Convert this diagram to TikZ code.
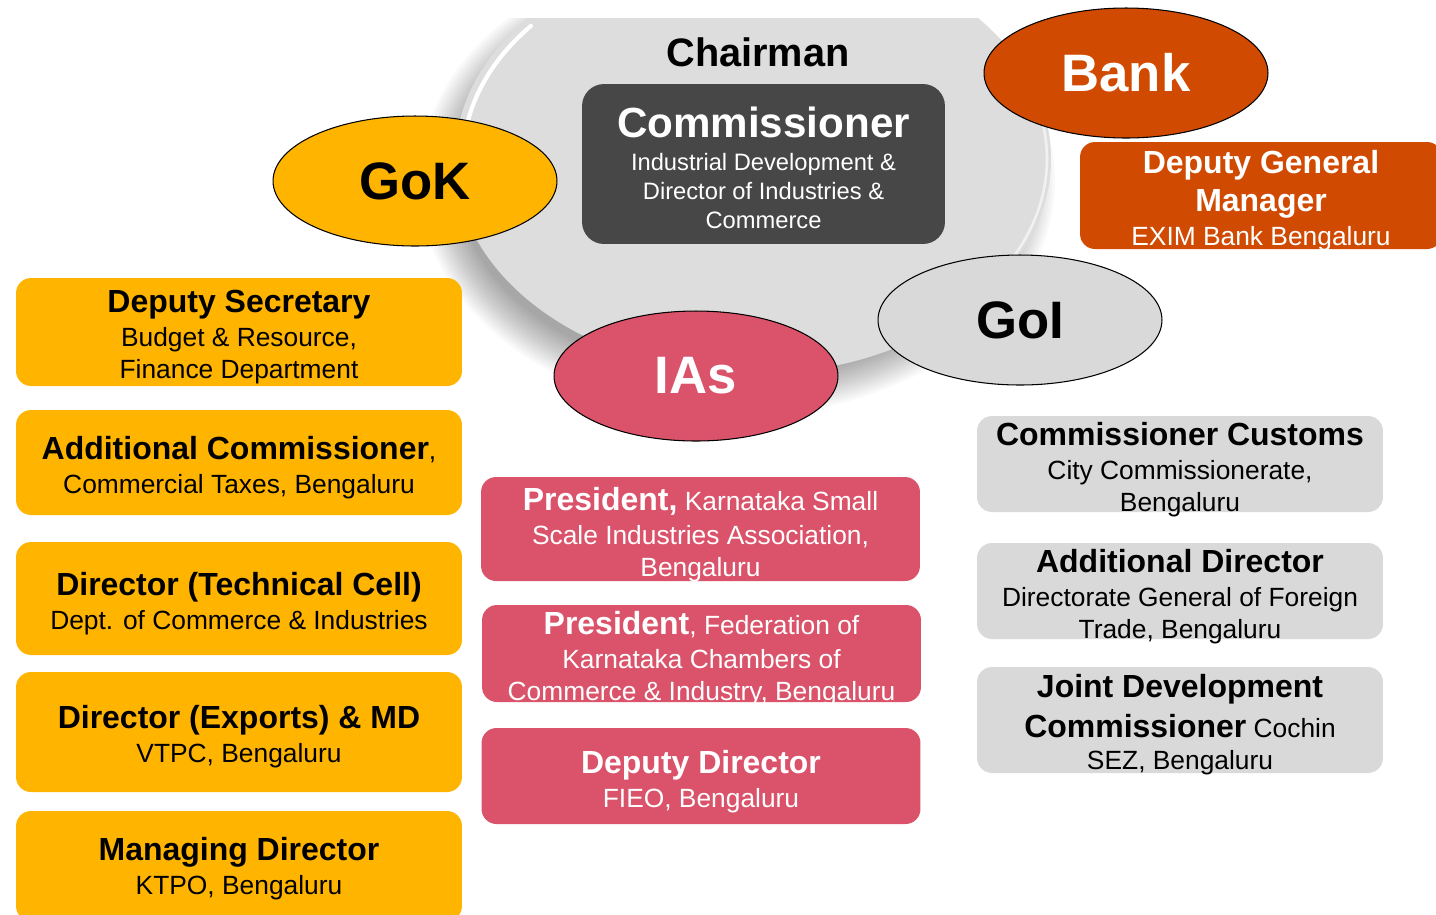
\documentclass[tikz,border=0pt]{standalone}
\usepackage{fontspec}
\setmainfont{Liberation Sans}
\usetikzlibrary{shapes.geometric}

\definecolor{gokyellow}{RGB}{255,180,0}
\definecolor{bankorange}{RGB}{208,74,2}
\definecolor{iaspink}{RGB}{218,83,106}
\definecolor{goigrey}{RGB}{217,217,217}
\definecolor{boardgrey}{RGB}{221,221,221}
\definecolor{commdark}{RGB}{71,71,71}

\newcommand{\boxhead}[1]{{\bfseries\fontsize{18.2}{18.2}\selectfont #1}}

\begin{document}
\begin{tikzpicture}[x=0.02cm, y=0.02cm,
  oval/.style={ellipse, draw=black, line width=0.6pt, minimum width=5.68cm,
    minimum height=2.6cm, font=\fontsize{30}{30}\selectfont\bfseries},
  member/.style={rounded corners=0.3cm, inner sep=0pt},
  boxtext/.style={align=center, inner sep=0pt, font=\fontsize{15}{18.2}\selectfont},
  gokbox/.style={member, fill=gokyellow, minimum width=8.92cm},
  iasbox/.style={member, fill=iaspink, minimum width=8.78cm},
  goibox/.style={member, fill=goigrey, minimum width=8.12cm},
]

% page
\fill[white] (0,0) rectangle (1436,-914);
\useasboundingbox (0,0) rectangle (1436,-914);

% board disc with soft shadow
\begin{scope}
\clip (0,-18) rectangle (1436,-914);
\foreach \i in {0,...,15}
  \fill[black, opacity=0.025] (737,-181) ellipse [x radius={318-2.6*\i}, y radius={235-2.6*\i}];
\fill[boardgrey] (753,-159) coordinate (board) ellipse [x radius=298, y radius=215];
\draw[white, line width=2.4pt, line cap=round]
  (board) ++(140:290 and 207) arc[start angle=140, end angle=172, x radius=290, y radius=207];
\draw[white, opacity=0.6, line width=1.5pt, line cap=round]
  (board) ++(-28:294 and 211) arc[start angle=-28, end angle=22, x radius=294, y radius=211];
\end{scope}

% chairman
\node[font=\fontsize{22.6}{22.6}\selectfont\bfseries] (chair) at (758,-52) {Chairman};
\node[rounded corners=0.44cm, fill=commdark, minimum width=7.26cm, minimum height=3.2cm]
  (comm) at (763.5,-164) {};
\node[boxtext, text=white, font=\fontsize{13.5}{16.5}\selectfont] (comm-t)
  at ([yshift=-0.08cm]comm.center)
  {{\bfseries\fontsize{24}{24}\selectfont Commissioner}\\[2.5pt]
   Industrial Development \&\\ Director of Industries \&\\ Commerce};

% groups
\node[oval, fill=gokyellow] (gok) at (415,-181) {GoK};
\node[oval, fill=bankorange, text=white] (bank) at (1126,-73) {Bank};
\node[oval, fill=goigrey] (goi) at (1020,-320) {GoI};
\node[oval, fill=iaspink, text=white] (ias) at (696,-376) {IAs};

% bank member
\node[member, fill=bankorange, minimum width=7.24cm, minimum height=2.14cm]
  (dgm) at (1261,-195.5) {};
\node[boxtext, text=white] (dgm-t) at ([yshift=-0.1cm]dgm.center)
  {\boxhead{Deputy General}\\[3.4pt]\boxhead{Manager}\\[1.1pt] EXIM Bank Bengaluru};

% GoK members
\node[gokbox, minimum height=2.16cm] (ds) at (239,-332) {};
\node[boxtext] (ds-t) at ([yshift=-0.1cm]ds.center)
  {\boxhead{Deputy Secretary}\\[1.1pt] Budget \& Resource,\\ Finance Department};
\node[gokbox, minimum height=2.1cm] (acom) at (239,-462.5) {};
\node[boxtext] (acom-t) at ([yshift=-0.1cm]acom.center)
  {\boxhead{Additional Commissioner},\\[1.1pt] Commercial Taxes, Bengaluru};
\node[gokbox, minimum height=2.26cm] (dtc) at (239,-598.5) {};
\node[boxtext] (dtc-t) at ([yshift=-0.1cm]dtc.center)
  {\boxhead{Director (Technical Cell)}\\[1.1pt] Dept. of Commerce \& Industries};
\node[gokbox, minimum height=2.4cm] (dexp) at (239,-732) {};
\node[boxtext] (dexp-t) at ([yshift=-0.1cm]dexp.center)
  {\boxhead{Director (Exports) \& MD}\\[1.1pt] VTPC, Bengaluru};
\node[gokbox, minimum height=2.2cm] (md) at (239,-866) {};
\node[boxtext] (md-t) at ([yshift=-0.06cm]md.center)
  {\boxhead{Managing Director}\\[1.1pt] KTPO, Bengaluru};

% IAs members
\node[iasbox, minimum height=2.08cm] (ksia) at (700.5,-529) {};
\node[boxtext, text=white] (ksia-t) at ([yshift=-0.12cm]ksia.center)
  {\boxhead{President,} Karnataka Small\\[1.1pt] Scale Industries Association,\\ Bengaluru};
\node[iasbox, minimum height=1.94cm] (fkcci) at (701.5,-653.5) {};
\node[boxtext, text=white] (fkcci-t) at ([yshift=-0.1cm]fkcci.center)
  {\boxhead{President}, Federation of\\[1.1pt] Karnataka Chambers of\\ Commerce \& Industry, Bengaluru};
\node[iasbox, minimum height=1.92cm] (fieo) at (701,-776) {};
\node[boxtext, text=white] (fieo-t) at ([yshift=-0.12cm]fieo.center)
  {\boxhead{Deputy Director}\\[1.1pt] FIEO, Bengaluru};

% GoI members
\node[goibox, minimum height=1.92cm] (cust) at (1180,-464) {};
\node[boxtext] (cust-t) at ([yshift=-0.12cm]cust.center)
  {\boxhead{Commissioner Customs}\\[1.1pt] City Commissionerate,\\ Bengaluru};
\node[goibox, minimum height=1.92cm] (dgft) at (1180,-591) {};
\node[boxtext] (dgft-t) at ([yshift=-0.12cm]dgft.center)
  {\boxhead{Additional Director}\\[1.1pt] Directorate General of Foreign\\ Trade, Bengaluru};
\node[goibox, minimum height=2.12cm] (sez) at (1180,-720) {};
\node[boxtext] (sez-t) at ([yshift=-0.1cm]sez.center)
  {\boxhead{Joint Development}\\[4.5pt]\boxhead{Commissioner} Cochin\\ SEZ, Bengaluru};

\end{tikzpicture}
\end{document}
